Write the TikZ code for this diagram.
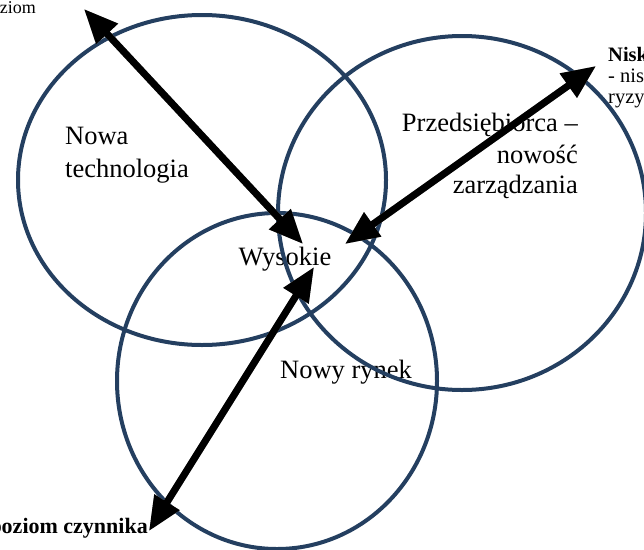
\documentclass[tikz,border=0pt]{standalone}
\usepackage{fontspec}
\setmainfont{Liberation Serif}
\usetikzlibrary{arrows.meta}
\definecolor{ringblue}{RGB}{36,63,96}
\definecolor{shadowgray}{RGB}{150,150,150}
\tikzset{
  ring/.style={draw=ringblue, line width=4pt},
  lbl/.style={inner sep=0pt, font=\fontsize{26.5}{31}\selectfont},
  cornerlbl/.style={inner sep=0pt, font=\fontsize{20.5}{24}\selectfont},
  biarrow/.style={line width=7pt, {Triangle[length=34pt 0,width=28pt 0]}-{Triangle[length=34pt 0,width=28pt 0]}},
  arrshadow/.style={biarrow, draw=shadowgray, fill=shadowgray, shift={(2.5,2.5)}},
  arrmain/.style={biarrow, draw=black, fill=black}
}
\begin{document}
\begin{tikzpicture}[x=1pt,y=-1pt]
\useasboundingbox (0,0) rectangle (644,549);
\clip (0,0) rectangle (644,549);
% labels
\node[lbl, anchor=base west] (nowa) at (65,144) {Nowa};
\node[lbl, anchor=base west] (tech) at (65,177) {technologia};
\node[lbl, anchor=base east] (przed) at (578,131) {Przedsiębiorca –};
\node[lbl, anchor=base east] (nowosc) at (578,163) {nowość};
\node[lbl, anchor=base east] (zarz) at (578,193) {zarządzania};
\node[lbl, anchor=base] (wys) at (285,265) {Wysokie};
\node[lbl, anchor=base west] (rynek) at (280,378) {Nowy rynek};
% corner labels
\node[cornerlbl, anchor=base east, font=\fontsize{18}{21}\selectfont] (tl) at (36,13) {poziom};
\node[cornerlbl, anchor=base west, font=\fontsize{20.5}{24}\selectfont\bfseries] (tr1) at (608,61) {Niski};
\node[cornerlbl, anchor=base west] (tr2) at (608,82) {- niskie};
\node[cornerlbl, anchor=base west] (tr3) at (608,103) {ryzyko};
\node[cornerlbl, anchor=base east, font=\fontsize{22}{26}\selectfont\bfseries] (bl) at (148,533) {Niski poziom czynnika};
% circles
\draw[ring] (202,180) ellipse [x radius=184, y radius=165];
\draw[ring] (462,213) ellipse [x radius=184, y radius=177];
\draw[ring] (277,381) ellipse [x radius=160, y radius=168];
% arrow end points
\coordinate (a1s) at (84,9);
\coordinate (a1e) at (303,244);
\coordinate (a2s) at (596,66);
\coordinate (a2e) at (345,244);
\coordinate (a3s) at (314,267);
\coordinate (a3e) at (149,531);
% arrows
\draw[arrshadow] (a1s) -- (a1e);
\draw[arrshadow] (a2s) -- (a2e);
\draw[arrshadow] (a3s) -- (a3e);
\draw[arrmain] (a1s) -- (a1e);
\draw[arrmain] (a2s) -- (a2e);
\draw[arrmain] (a3s) -- (a3e);
\end{tikzpicture}
\end{document}
